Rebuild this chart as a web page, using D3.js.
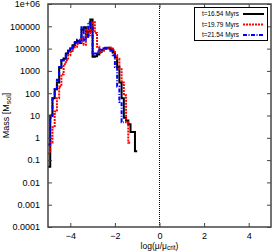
<!DOCTYPE html>
<meta charset="utf-8">
<style>
body { margin: 0; background: #fff; }
svg text { font-family: "Liberation Sans", Arial, sans-serif; fill: #000; }
</style>
<svg width="273" height="252"></svg>
<script src="https://cdn.jsdelivr.net/npm/d3@7"></script>
<script>
// bin left edges in log(mu/mu_crit), width 0.1
const binEdges = [-5.0, -4.9, -4.8, -4.7, -4.6, -4.5, -4.4, -4.3, -4.2, -4.1,
  -4.0, -3.9, -3.8, -3.7, -3.6, -3.5, -3.4, -3.3, -3.2, -3.1,
  -3.0, -2.9, -2.8, -2.7, -2.6, -2.5, -2.4, -2.3, -2.2, -2.1,
  -2.0, -1.9, -1.8, -1.7, -1.6, -1.5, -1.4, -1.3, -1.2, -1.1];
const binWidth = 0.1;

const mass1654 = [0.05, 10, 60, 150, 300, 1400, 3000, 3500, 6000, 8000,
  10000, 14000, 18000, 22000, 18000, 70000, 90000, 35000, 60000, 200000,
  4300, 4500, 5500, 7000, 8500, 10000, 10500, 11000, 9500, 7000,
  4000, 1500, 300, 60, 8, 6, 4, 1.8, 1.8, 0.25];
const mass1979 = [0.2, 0.6, 3, 15, 60, 200, 700, 2000, 3000, 5000,
  7000, 10000, 12000, 16000, 20000, 30000, 15000, 70000, 40000, 70000,
  150000, 50000, 12000, 6500, 8000, 9500, 10500, 11000, 10000, 8500,
  5000, 3500, 1200, 300, 80, 5, 0.6];
const mass2154 = [0.5, 8, 60, 150, 400, 1500, 3000, 4000, 6000, 8000,
  10000, 12000, 20000, 25000, 20000, 90000, 25000, 30000, 150000, 100000,
  5000, 6000, 7500, 9000, 10000, 11000, 10500, 10000, 8000, 5000,
  1500, 200, 40, 5];

const seriesNames = ["t=16.54 Myrs", "t=19.79 Myrs", "t=21.54 Myrs"];
const seriesValues = [mass1654, mass1979, mass2154];
const seriesColors = ["#000000", "#ff0000", "#0000ff"];
const seriesDash = [null, "2,1", "4,1.5,1,1.5"];

const xTicks = [-4, -2, 0, 2, 4];
const yTicks = [1e-4, 1e-3, 1e-2, 1e-1, 1, 10, 100, 1000, 10000, 100000, 1e6];
const yTickLabels = ["0.0001", "0.001", "0.01", "0.1", "1", "10", "100", "1000", "10000", "100000", "1e+06"];

const svg = d3.select("svg");
const pLeft = 48, pRight = 271, pTop = 4, pBottom = 227;

const x = d3.scaleLinear().domain([-5, 5]).range([pLeft, pRight]);
const y = d3.scaleLog().domain([1e-4, 1e6]).range([pBottom, pTop]);

// curves
const line = d3.line()
  .x(d => x(d[0]))
  .y(d => y(d[1]))
  .curve(d3.curveStepAfter);

const plot = svg.append("g");
seriesValues.forEach(function(vals, i) {
  const pts = vals.map((v, j) => [binEdges[j], v]);
  pts.push([binEdges[vals.length - 1] + binWidth, vals[vals.length - 1]]);
  plot.append("path")
    .attr("d", line(pts))
    .attr("fill", "none")
    .attr("stroke", seriesColors[i])
    .attr("stroke-width", 2)
    .attr("stroke-dasharray", seriesDash[i]);
});

// dotted line at mu = mu_crit
svg.append("line")
  .attr("x1", x(0)).attr("x2", x(0))
  .attr("y1", pTop).attr("y2", pBottom)
  .attr("stroke", "#000")
  .attr("stroke-width", 1)
  .attr("stroke-dasharray", "1,1");

// axes (gnuplot style: inward ticks, mirrored)
const tl = 4;
const axisBottom = d3.axisBottom(x).tickValues(xTicks).tickSizeInner(-tl).tickSizeOuter(0).tickPadding(5.5).tickFormat(d3.format("d"));
const axisTop = d3.axisTop(x).tickValues(xTicks).tickSizeInner(-tl).tickSizeOuter(0).tickFormat("");
const axisLeft = d3.axisLeft(y).tickValues(yTicks).tickSizeInner(-tl).tickSizeOuter(0).tickPadding(8)
  .tickFormat((d, i) => yTickLabels[i]);
const axisRight = d3.axisRight(y).tickValues(yTicks).tickSizeInner(-tl).tickSizeOuter(0).tickFormat("");

function styleAxis(g) {
  g.select(".domain").remove();
  g.selectAll(".tick line").attr("stroke", "#444");
  g.selectAll("text").attr("font-size", 9).attr("font-family", "Liberation Sans, Arial, sans-serif").attr("fill", "#000");
}
svg.append("g").attr("transform", `translate(0,${pBottom})`).call(axisBottom).call(styleAxis);
svg.append("g").attr("transform", `translate(0,${pTop})`).call(axisTop).call(styleAxis);
svg.append("g").attr("transform", `translate(${pLeft},0)`).call(axisLeft).call(styleAxis);
svg.append("g").attr("transform", `translate(${pRight},0)`).call(axisRight).call(styleAxis);

// frame
svg.append("rect")
  .attr("x", pLeft).attr("y", pTop)
  .attr("width", pRight - pLeft).attr("height", pBottom - pTop)
  .attr("fill", "none").attr("stroke", "#444").attr("stroke-width", 1.5);

// axis labels
const xl = svg.append("text")
  .attr("x", x(0)).attr("y", 248.5)
  .attr("text-anchor", "middle")
  .attr("font-size", 8.5);
xl.append("tspan").text("log(\u03bc/\u03bc");
xl.append("tspan").attr("font-size", 6.5).attr("dy", 1.8).text("crit");
xl.append("tspan").attr("dy", -1.8).text(")");

const yl = svg.append("text")
  .attr("transform", `translate(9,${(pTop + pBottom) / 2}) rotate(-90)`)
  .attr("text-anchor", "middle")
  .attr("font-size", 9);
yl.append("tspan").text("Mass [M");
yl.append("tspan").attr("font-size", 7).attr("dy", 2).text("sol");
yl.append("tspan").attr("dy", -2).text("]");

// legend
const lg = svg.append("g");
lg.append("rect")
  .attr("x", 194.5).attr("y", 7.5).attr("width", 73).attr("height", 33)
  .attr("fill", "#fff").attr("stroke", "#000").attr("stroke-width", 1);
seriesNames.forEach(function(name, i) {
  const yy = 14 + i * 10.5;
  lg.append("text")
    .attr("x", 239).attr("y", yy + 2.2)
    .attr("text-anchor", "end")
    .attr("font-size", 6.4)
    .text(name);
  lg.append("line")
    .attr("x1", 243).attr("x2", 264)
    .attr("y1", yy).attr("y2", yy)
    .attr("stroke", seriesColors[i])
    .attr("stroke-width", 2)
    .attr("stroke-dasharray", seriesDash[i]);
});
</script>
